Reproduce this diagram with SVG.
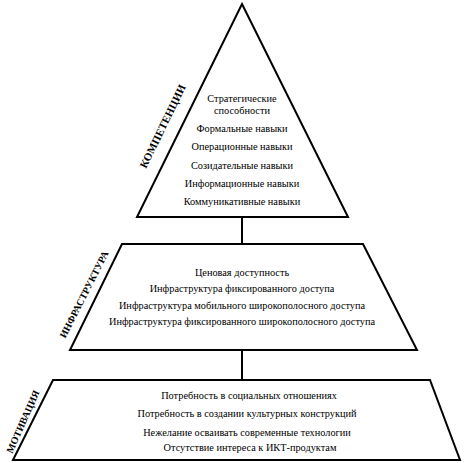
<svg xmlns="http://www.w3.org/2000/svg" width="474" height="463" viewBox="0 0 474 463">
<style>
.shape{fill:#fff;stroke:#000;stroke-width:2;stroke-linejoin:miter}
.t{font-family:"Liberation Serif","DejaVu Serif",serif;font-size:10.3px;fill:#000;text-anchor:middle}
.lbl{font-family:"Liberation Serif","DejaVu Serif",serif;font-size:11px;font-weight:bold;fill:#000;text-anchor:middle}
.conn{stroke:#000;stroke-width:2;fill:none}
</style>
<rect width="474" height="463" fill="#fff"/>
<g id="connectors">
<line class="conn" x1="242" y1="217" x2="242" y2="244"/>
<line class="conn" x1="242" y1="350" x2="242" y2="380"/>
</g>
<g id="competencies">
<polygon class="shape" points="242,4 348,217 137,217"/>
<text class="lbl" transform="translate(166,128) rotate(-64)">КОМПЕТЕНЦИИ</text>
<text class="t" x="242" y="102">Стратегические</text>
<text class="t" x="242" y="114">способности</text>
<text class="t" x="242" y="132">Формальные навыки</text>
<text class="t" x="242" y="150">Операционные навыки</text>
<text class="t" x="242" y="169">Созидательные навыки</text>
<text class="t" x="242" y="187">Информационные навыки</text>
<text class="t" x="242" y="205">Коммуникативные навыки</text>
</g>
<g id="infrastructure">
<polygon class="shape" points="122,244 363,244 417,350 70,350"/>
<text class="lbl" style="font-size:10px" transform="translate(87,296) rotate(-63)">ИНФРАСТРУКТУРА</text>
<text class="t" x="242" y="276">Ценовая доступность</text>
<text class="t" x="242" y="292">Инфраструктура фиксированного доступа</text>
<text class="t" x="242" y="309">Инфраструктура мобильного широкополосного доступа</text>
<text class="t" x="242" y="325">Инфраструктура фиксированного широкополосного доступа</text>
</g>
<g id="motivation">
<polygon class="shape" points="53,380 430,380 460,460 13,460"/>
<text class="lbl" style="font-size:10px" transform="translate(26,423) rotate(-66)">МОТИВАЦИЯ</text>
<text class="t" x="249" y="399">Потребность в социальных отношениях</text>
<text class="t" x="247" y="417">Потребность в создании культурных конструкций</text>
<text class="t" x="247" y="436">Нежелание осваивать современные технологии</text>
<text class="t" x="250" y="451">Отсутствие интереса к ИКТ-продуктам</text>
</g>
</svg>
